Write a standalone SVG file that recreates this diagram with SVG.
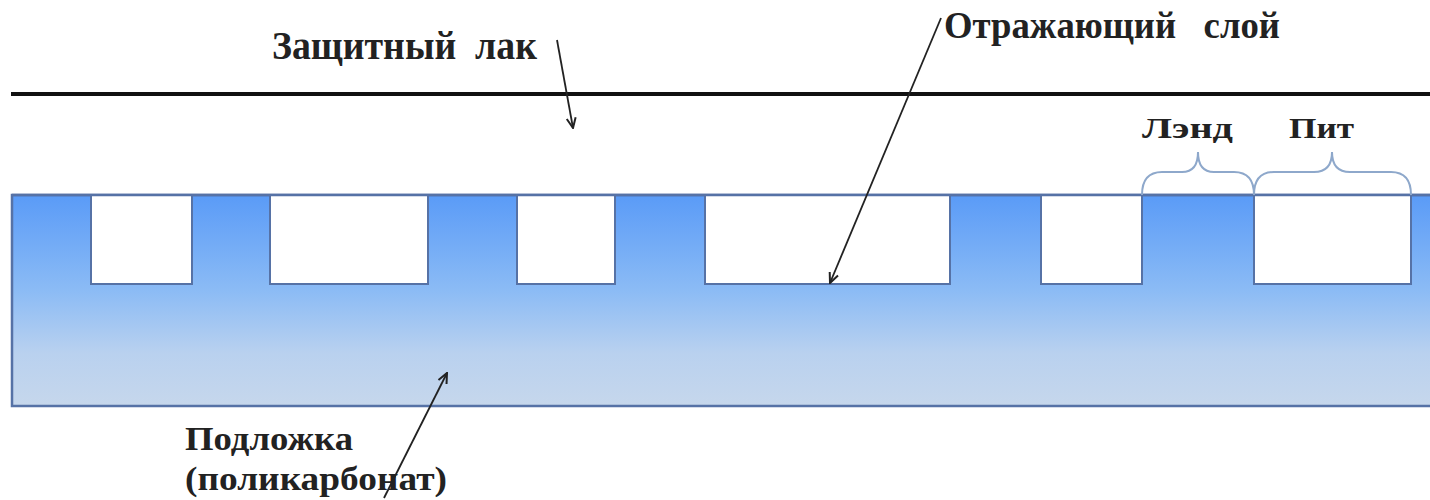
<svg xmlns="http://www.w3.org/2000/svg" width="1430" height="500" viewBox="0 0 1430 500">
<defs>
<linearGradient id="sub" x1="0" y1="0" x2="0" y2="1">
<stop offset="0" stop-color="#5a9bf7"/>
<stop offset="0.45" stop-color="#8bbbf5"/>
<stop offset="0.75" stop-color="#b9d1ef"/>
<stop offset="1" stop-color="#c6d7ec"/>
</linearGradient>
<marker id="ah" viewBox="0 0 12 12" refX="11" refY="6" markerWidth="12" markerHeight="12" markerUnits="userSpaceOnUse" orient="auto">
<path d="M1,1.5 L11,6 L1,10.5" fill="none" stroke="#222" stroke-width="2"/>
</marker>
<style>
.lbl{font-family:"Liberation Serif","Times New Roman",serif;font-weight:bold;fill:#222;}
.pit{fill:#ffffff;stroke:#5672a6;stroke-width:2;}
.brace{fill:none;stroke:#8ea8cb;stroke-width:2;}
.conn{stroke:#222;stroke-width:1.8;fill:none;marker-end:url(#ah);}
</style>
</defs>
<rect width="1430" height="500" fill="#ffffff"/>
<g id="lacquer">
<line x1="11" y1="94" x2="1430" y2="94" stroke="#111" stroke-width="4"/>
</g>
<g id="substrate">
<rect x="12" y="195" width="1425" height="211" fill="url(#sub)" stroke="#5672a6" stroke-width="2.5"/>
</g>
<g id="pits">
<rect class="pit" x="91" y="195" width="101" height="89"/>
<rect class="pit" x="270" y="195" width="158" height="89"/>
<rect class="pit" x="517" y="195" width="98" height="89"/>
<rect class="pit" x="705" y="195" width="245" height="89"/>
<rect class="pit" x="1041" y="195" width="101" height="89"/>
<rect class="pit" x="1254" y="195" width="157" height="89"/>
<line x1="12" y1="195" x2="1430" y2="195" stroke="#5672a6" stroke-width="2.5"/>
</g>
<g id="brace-land">
<path class="brace" d="M1142,195 Q1142,172 1162,172 L1182,172 Q1198,172 1198,152 Q1198,172 1214,172 L1234,172 Q1254,172 1254,195"/>
</g>
<g id="brace-pit">
<path class="brace" d="M1254,195 Q1254,172 1274,172 L1314,172 Q1332,172 1332,152 Q1332,172 1350,172 L1391,172 Q1411,172 1411,195"/>
</g>
<g id="label-lacquer"><text class="lbl" x="272" y="59" font-size="41" textLength="265" lengthAdjust="spacingAndGlyphs" xml:space="preserve">Защитный  лак</text></g>
<g id="label-reflect"><text class="lbl" x="944" y="38" font-size="38" textLength="336" lengthAdjust="spacingAndGlyphs" xml:space="preserve">Отражающий   слой</text></g>
<g id="label-land"><text class="lbl" x="1142" y="138" font-size="30" textLength="91" lengthAdjust="spacingAndGlyphs">Лэнд</text></g>
<g id="label-pit"><text class="lbl" x="1289" y="138" font-size="30" textLength="65" lengthAdjust="spacingAndGlyphs">Пит</text></g>
<g id="label-substrate">
<text class="lbl" x="185" y="450" font-size="34" textLength="168" lengthAdjust="spacingAndGlyphs">Подложка</text>
<text class="lbl" x="185" y="490" font-size="34" textLength="262" lengthAdjust="spacingAndGlyphs">(поликарбонат)</text>
</g>
<g id="connectors">
<line class="conn" x1="557" y1="40" x2="573" y2="128"/>
<line class="conn" x1="941" y1="18" x2="830" y2="283"/>
<line class="conn" x1="384" y1="498" x2="447" y2="373"/>
</g>
</svg>
